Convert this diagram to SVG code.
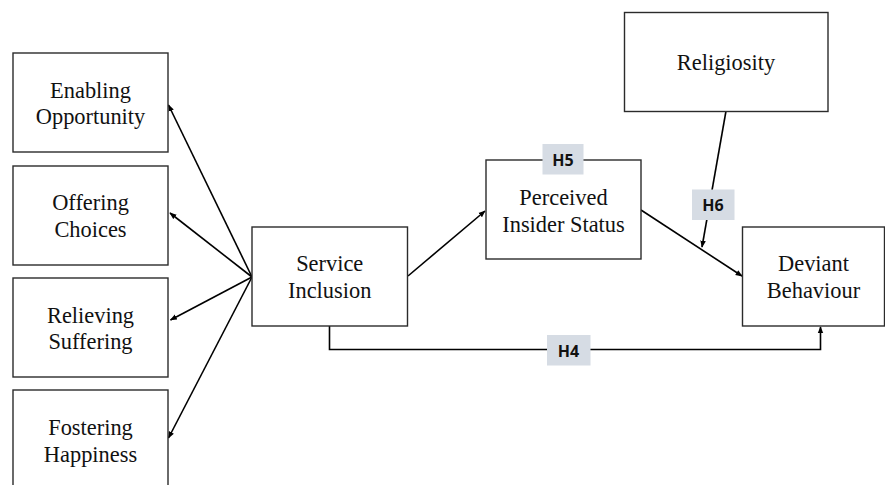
<svg xmlns="http://www.w3.org/2000/svg" width="885" height="485" viewBox="0 0 885 485">
<style>
.nodebox{fill:#fff;stroke:#2b2b2b;stroke-width:1.4}
.conn{fill:none;stroke:#000;stroke-width:1.6}
.hypbg{fill:#d6dce4}
.nt{font-family:'Liberation Serif','Times New Roman',serif;font-size:22.4px;fill:#111;text-anchor:middle}
.ht{font-family:'Open Sans','DejaVu Sans',sans-serif;font-weight:bold;font-size:16px;fill:#111;text-anchor:middle}
</style>
<defs>
<marker id="ah" viewBox="0 0 10 10" refX="9" refY="5" markerWidth="7" markerHeight="7" orient="auto" markerUnits="userSpaceOnUse">
<path d="M0,1 L10,5 L0,9 Z" fill="#000"/>
</marker>
</defs>
<rect width="885" height="485" fill="#fff"/>
<g id="connectors">
<line class="conn" x1="252" y1="277" x2="168.5" y2="105" marker-end="url(#ah)"/>
<line class="conn" x1="252" y1="277" x2="170" y2="213" marker-end="url(#ah)"/>
<line class="conn" x1="252" y1="277" x2="170.5" y2="320" marker-end="url(#ah)"/>
<line class="conn" x1="252" y1="277" x2="168.5" y2="438" marker-end="url(#ah)"/>
<line class="conn" x1="408" y1="276" x2="485" y2="211" marker-end="url(#ah)"/>
<line class="conn" x1="641" y1="210" x2="742" y2="276" marker-end="url(#ah)"/>
<line class="conn" x1="726" y1="111" x2="702" y2="247" marker-end="url(#ah)"/>
<polyline class="conn" points="329.5,326 329.5,349.5 820.5,349.5 820.5,327" marker-end="url(#ah)"/>
</g>
<g id="enabling"><rect class="nodebox" x="13" y="53" width="155" height="99"/><text class="nt" x="90.5" y="98">Enabling</text><text class="nt" x="90.5" y="124">Opportunity</text></g>
<g id="offering"><rect class="nodebox" x="13" y="166" width="155" height="99"/><text class="nt" x="90.5" y="210">Offering</text><text class="nt" x="90.5" y="236.5">Choices</text></g>
<g id="relieving"><rect class="nodebox" x="13" y="278" width="155" height="99"/><text class="nt" x="90.5" y="322.5">Relieving</text><text class="nt" x="90.5" y="349">Suffering</text></g>
<g id="fostering"><rect class="nodebox" x="13" y="390" width="155" height="99"/><text class="nt" x="90.5" y="435">Fostering</text><text class="nt" x="90.5" y="461.5">Happiness</text></g>
<g id="service"><rect class="nodebox" x="252" y="227" width="155.5" height="99"/><text class="nt" x="329.7" y="270.5">Service</text><text class="nt" x="329.7" y="298">Inclusion</text></g>
<g id="perceived"><rect class="nodebox" x="486" y="160" width="155" height="99"/><text class="nt" x="563.5" y="204.5">Perceived</text><text class="nt" x="563.5" y="231.5">Insider Status</text></g>
<g id="religiosity"><rect class="nodebox" x="624.5" y="12.5" width="203.5" height="99"/><text class="nt" x="726" y="70">Religiosity</text></g>
<g id="deviant"><rect class="nodebox" x="742.5" y="227" width="142" height="99"/><text class="nt" x="813.5" y="270.5">Deviant</text><text class="nt" x="813.5" y="297.5">Behaviour</text></g>
<g id="label-h5"><rect class="hypbg" x="542.5" y="144" width="41" height="30.5"/><text class="ht" x="563" y="165.5">H5</text></g>
<g id="label-h6"><rect class="hypbg" x="692" y="189.5" width="42.5" height="30.5"/><text class="ht" x="713" y="211">H6</text></g>
<g id="label-h4"><rect class="hypbg" x="547" y="335" width="43.5" height="30.5"/><text class="ht" x="568.5" y="356.5">H4</text></g>
</svg>
